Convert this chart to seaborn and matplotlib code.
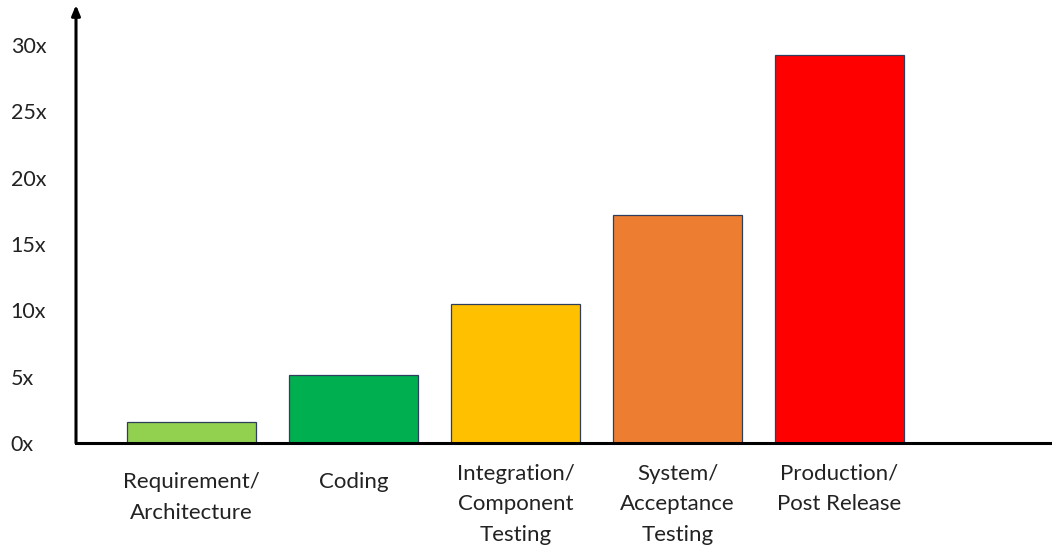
import matplotlib
matplotlib.use("Agg")
import matplotlib.pyplot as plt
import matplotlib.transforms as mtransforms
import seaborn as sns
import pandas as pd

categories = ["Requirement/\nArchitecture", "Coding", "Integration/\nComponent\nTesting",
              "System/\nAcceptance\nTesting", "Production/\nPost Release"]
values = [1.55, 5.1, 10.5, 17.2, 29.2]
colors = ["#92D050", "#00B050", "#FFC000", "#ED7D31", "#FF0000"]
yticks = [0, 5, 10, 15, 20, 25, 30]
ytick_labels = ["0x", "5x", "10x", "15x", "20x", "25x", "30x"]

sns.set_style("white")
plt.rcParams["font.family"] = ["Lato", "DejaVu Sans"]

df = pd.DataFrame({"stage": categories, "cost": values})

fig = plt.figure(figsize=(10.52, 5.48), dpi=100)
ax = fig.add_axes([76 / 1052, 105 / 548, 1 - 76 / 1052, (443 - 5) / 548])

sns.barplot(data=df, x="stage", y="cost", hue="stage", palette=colors, width=0.8,
            edgecolor="#2F3E5C", linewidth=0.9, legend=False, ax=ax, saturation=1)

ax.set_xlim((76 - 191.5) / 162, (1052 - 191.5) / 162)
ax.set_ylim(0, 33)
ax.set_xlabel("")
ax.set_ylabel("")

for s in ["top", "right", "left"]:
    ax.spines[s].set_visible(False)
ax.spines["bottom"].set_linewidth(2.2)
ax.spines["bottom"].set_color("black")
ax.spines["bottom"].set_zorder(5)

ax.annotate("", xy=(0, 1.0), xytext=(0, 0), xycoords="axes fraction",
            textcoords="axes fraction",
            arrowprops=dict(arrowstyle="-|>,head_length=0.6,head_width=0.25",
                            lw=2.2, color="black", shrinkA=0, shrinkB=0),
            annotation_clip=False)

ax.set_yticks(yticks)
ax.set_yticklabels(ytick_labels, fontsize=15.5, color="#222222")
ax.tick_params(axis="y", length=0, pad=47)
for lbl in ax.get_yticklabels():
    lbl.set_horizontalalignment("left")

ax.set_xticks(range(len(categories)))
ax.set_xticklabels(categories, fontsize=16, color="#222222", linespacing=1.65)
ax.tick_params(axis="x", length=0, pad=15)
for i, lbl in enumerate(ax.get_xticklabels()):
    if i < 2:
        off = mtransforms.ScaledTranslation(0, -6 / 72, fig.dpi_scale_trans)
        lbl.set_transform(lbl.get_transform() + off)

fig.savefig("out.png", dpi=100)
